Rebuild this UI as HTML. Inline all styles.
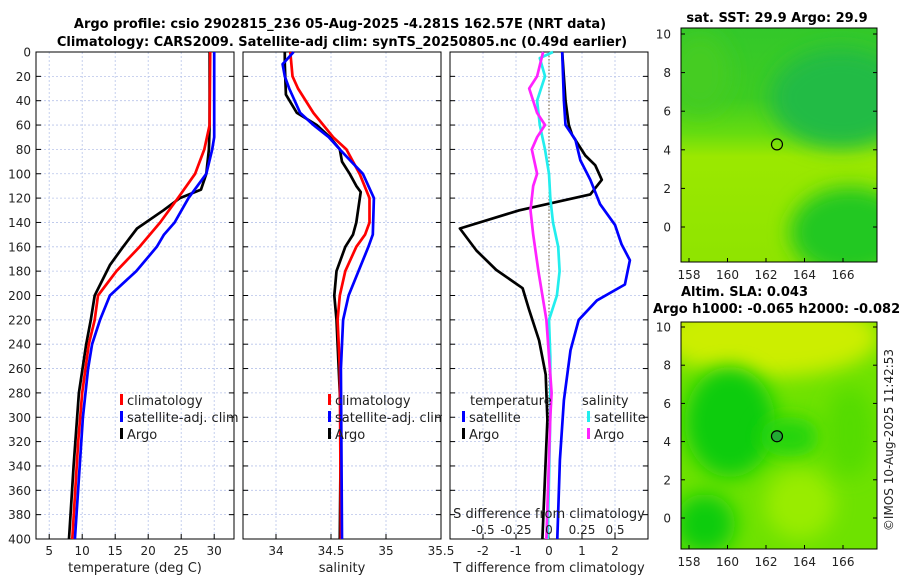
<!DOCTYPE html>
<html><head><meta charset="utf-8"><style>
body{margin:0;background:#fff;}
svg{display:block;font-family:"DejaVu Sans","Liberation Sans",sans-serif;}
</style></head><body>
<svg id="fig" width="900" height="580" viewBox="0 0 900 580">
<defs>
<linearGradient id="sstg" x1="0" y1="0" x2="0" y2="1">
<stop offset="0" stop-color="#33c82a"/><stop offset="0.3" stop-color="#3dcc22"/><stop offset="0.45" stop-color="#66dc10"/><stop offset="0.55" stop-color="#9be800"/><stop offset="1" stop-color="#8fe400"/></linearGradient>
<filter id="bl" x="-50%" y="-50%" width="200%" height="200%"><feGaussianBlur stdDeviation="10"/></filter>
</defs>
<g id="titles">
<text x="340" y="28" text-anchor="middle" font-size="13" font-weight="bold">Argo profile: csio 2902815_236 05-Aug-2025 -4.281S 162.57E (NRT data)</text>
<text x="342" y="46" text-anchor="middle" font-size="13" font-weight="bold">Climatology: CARS2009. Satellite-adj clim: synTS_20250805.nc (0.49d earlier)</text>
</g>
<g id="panels"></g>
<g id="maps"></g>
<text transform="translate(893,440) rotate(-90)" text-anchor="middle" font-size="12" fill="#222">©IMOS 10-Aug-2025 11:42:53</text>
</svg>
<script>
// ---- data ----
const tDepth = [0, 60, 80, 100, 113, 120, 130, 145, 160, 175, 200, 220, 240, 280, 340, 400];
const tArgo = [29.3, 29.3, 29.2, 28.8, 28.0, 24.8, 22.3, 18.3, 16.2, 14.2, 11.9, 11.3, 10.6, 9.5, 8.7, 8.0];
const cDepth = [0, 60, 80, 100, 120, 140, 160, 180, 200, 220, 240, 280, 320, 400];
const tClim = [29.4, 29.3, 28.5, 27.1, 24.5, 21.8, 18.7, 15.2, 12.4, 11.9, 11.0, 10.0, 9.4, 8.5];
const sDepthB = [0, 70, 80, 100, 120, 140, 150, 160, 180, 200, 220, 240, 260, 300, 400];
const tSat = [30.0, 30.0, 29.7, 28.8, 26.1, 24.0, 22.4, 21.3, 18.2, 14.2, 12.7, 11.5, 10.9, 10.1, 8.9];
const saDepth = [0, 10, 35, 50, 60, 70, 80, 90, 100, 110, 115, 140, 150, 160, 180, 200, 220, 260, 300, 400];
const sArgo = [34.08, 34.08, 34.09, 34.19, 34.37, 34.49, 34.58, 34.60, 34.67, 34.73, 34.77, 34.73, 34.70, 34.63, 34.55, 34.53, 34.55, 34.57, 34.59, 34.58];
const scDepth = [0, 10, 20, 30, 50, 70, 80, 100, 120, 140, 150, 160, 180, 200, 220, 260, 400];
const sClim = [34.13, 34.14, 34.15, 34.20, 34.34, 34.52, 34.64, 34.76, 34.85, 34.85, 34.81, 34.73, 34.63, 34.58, 34.56, 34.58, 34.59];
const ssDepth = [0, 10, 20, 30, 50, 60, 70, 80, 100, 120, 150, 160, 180, 200, 220, 260, 400];
const sSat = [34.16, 34.06, 34.08, 34.12, 34.22, 34.34, 34.48, 34.58, 34.79, 34.89, 34.88, 34.84, 34.75, 34.66, 34.61, 34.59, 34.60];
const dtDepthA = [0, 40, 60, 68, 85, 93, 105, 117, 130, 145, 163, 179, 194, 212, 237, 265, 302, 335, 400];
const dtArgo = [0.4, 0.5, 0.6, 0.7, 1.1, 1.4, 1.6, 1.25, -0.9, -2.7, -2.2, -1.6, -0.8, -0.6, -0.3, -0.1, -0.05, -0.1, -0.2];
const dtDepthS = [0, 40, 60, 72, 89, 105, 125, 142, 158, 171, 191, 204, 220, 245, 286, 335, 400];
const dtSat = [0.4, 0.45, 0.5, 0.8, 0.95, 1.25, 1.55, 2.0, 2.2, 2.45, 2.3, 1.45, 0.9, 0.65, 0.45, 0.33, 0.25];
const dsDepthS = [0, 5, 20, 40, 60, 80, 100, 120, 140, 160, 180, 200, 220, 250, 300, 400];
const dsSat = [0.03, -0.07, -0.03, -0.09, -0.07, -0.03, 0.0, 0.01, 0.03, 0.07, 0.08, 0.06, 0.0, 0.01, 0.01, -0.01];
const dsDepthA = [0, 20, 30, 50, 60, 70, 80, 100, 110, 130, 150, 180, 200, 220, 280, 300, 400];
const dsArgo = [-0.045, -0.09, -0.15, -0.09, -0.03, -0.09, -0.13, -0.09, -0.12, -0.14, -0.12, -0.08, -0.05, -0.02, 0.02, 0.01, -0.02];
const depthTicks = [0,20,40,60,80,100,120,140,160,180,200,220,240,260,280,300,320,340,360,380,400];
const tTicks = [5,10,15,20,25,30];
const sTicks = [34,34.5,35,35.5];
const sTickLabels = ["34","34.5","35","35.5"];
const dtTicks = [-2,-1,0,1,2];
const dsTicks = [-0.5,-0.25,0,0.25,0.5];
const lonTicks = [158,160,162,164,166];
const latTicks = [0,2,4,6,8,10];
const argoLon = 162.57, argoLat = 4.281;

const NS="http://www.w3.org/2000/svg";
function mk(tag, attrs, parent, text){
  const e=document.createElementNS(NS,tag);
  for(const k in attrs) e.setAttribute(k,attrs[k]);
  if(text!==undefined) e.textContent=text;
  parent.appendChild(e); return e;
}
const Y0=52, YS=1.2175;
const yD = d => Y0 + d*YS;
const panels = document.getElementById('panels');

function panel(name, x0, x1, vmin, vmax, xticks, xlabels, xtitle, showY){
  const g = mk('g',{},panels);
  
  
  const xf = v => x0 + (v-vmin)/(vmax-vmin)*(x1-x0);
  depthTicks.forEach(d=>{
    const l=mk('line',{x1:x0,x2:x1,y1:yD(d),y2:yD(d),stroke:'#b8c4ea','stroke-width':0.8,'stroke-dasharray':'2,2'},g);
    
    
    mk('line',{x1:x0,x2:x0+5,y1:yD(d),y2:yD(d),stroke:'#000'},g);
    mk('line',{x1:x1-5,x2:x1,y1:yD(d),y2:yD(d),stroke:'#000'},g);
    if(showY){
      const t=mk('text',{x:x0-5,y:yD(d)+4.5,'text-anchor':'end','font-size':12,fill:'#222'},g,String(d));
      
      
    }
  });
  xticks.forEach((v,i)=>{
    const l=mk('line',{x1:xf(v),x2:xf(v),y1:Y0,y2:yD(400),stroke:'#b8c4ea','stroke-width':0.8,'stroke-dasharray':'2,2'},g);
    
    
    mk('line',{x1:xf(v),x2:xf(v),y1:yD(400),y2:yD(400)-5,stroke:'#000'},g);
    const t=mk('text',{x:xf(v),y:555,'text-anchor':'middle','font-size':12,fill:'#222'},g,xlabels[i]);
    
    
  });
  const tt=mk('text',{x:(x0+x1)/2,y:572,'text-anchor':'middle','font-size':13,fill:'#222'},g,xtitle);
  
  
  const fr=mk('rect',{x:x0,y:Y0,width:x1-x0,height:yD(400)-Y0,fill:'none',stroke:'#000','stroke-width':1},g);
  
  
  return {g,xf};
}
function line(p, depths, vals, color, name, w){
  const pts = depths.map((d,i)=>p.xf(vals[i]).toFixed(1)+','+yD(d).toFixed(1)).join(' ');
  const l=mk('polyline',{points:pts,fill:'none',stroke:color,'stroke-width':w||2.7,'stroke-linejoin':'round'},p.g);
  
  
}
function legend(g, x, y, color, label){
  const r=mk('rect',{x:x,y:y-11,width:3,height:11,fill:color},g);
  
  
  const t=mk('text',{x:x+7,y:y,'font-size':13,fill:'#222'},g,label);
  
  
}

const p1 = panel('temperature-panel',36,234,3,33,tTicks,tTicks.map(String),'temperature (deg C)',true);
line(p1,tDepth,tArgo,'#000','argo-temperature-line');
line(p1,cDepth,tClim,'#ff0000','climatology-temperature-line');
line(p1,sDepthB,tSat,'#0000ff','satellite-temperature-line');
legend(p1.g,120,405,'#ff0000','climatology');
legend(p1.g,120,422,'#0000ff','satellite-adj. clim');
legend(p1.g,120,439,'#000','Argo');

const p2 = panel('salinity-panel',243,441,33.7,35.5,sTicks,sTickLabels,'salinity',false);
line(p2,saDepth,sArgo,'#000','argo-salinity-line');
line(p2,scDepth,sClim,'#ff0000','climatology-salinity-line');
line(p2,ssDepth,sSat,'#0000ff','satellite-salinity-line');
legend(p2.g,328,405,'#ff0000','climatology');
legend(p2.g,328,422,'#0000ff','satellite-adj. clim');
legend(p2.g,328,439,'#000','Argo');
mk('rect',{x:442,y:390,width:8,height:40,fill:'#fff'},panels);

const p3 = panel('difference-panel',450,648,-3,3,dtTicks,dtTicks.map(String),'T difference from climatology',false);
const zl=mk('line',{x1:p3.xf(0),x2:p3.xf(0),y1:Y0,y2:yD(400),stroke:'#6b5a3a','stroke-width':1,'stroke-dasharray':'1.5,2'},p3.g);


const sScale = v => v*4;
line(p3,dtDepthA,dtArgo,'#000','argo-temperature-difference');
line(p3,dtDepthS,dtSat,'#0000ff','satellite-temperature-difference');
line(p3,dsDepthS,dsSat.map(sScale),'#22eeee','satellite-salinity-difference');
line(p3,dsDepthA,dsArgo.map(sScale),'#ff22ff','argo-salinity-difference');
const lt=mk('text',{x:470,y:405,'font-size':13,fill:'#222'},p3.g,'temperature');


const ls=mk('text',{x:582,y:405,'font-size':13,fill:'#222'},p3.g,'salinity');


legend(p3.g,462,422,'#0000ff','satellite');
legend(p3.g,462,439,'#000','Argo');
legend(p3.g,587,422,'#22eeee','satellite');
legend(p3.g,587,439,'#ff22ff','Argo');
const st=mk('text',{x:549,y:518,'text-anchor':'middle','font-size':13,fill:'#222'},p3.g,'S difference from climatology');


dsTicks.forEach(v=>{
  const t=mk('text',{x:p3.xf(sScale(v)),y:534,'text-anchor':'middle','font-size':12,fill:'#222'},p3.g,String(v));
  
  
});

const maps=document.getElementById('maps');
const lonX = lon => 689 + (lon-158)*19.25;
function map(name, top, bottom, lat10y, lat0y, kind, titles){
  const g=mk('g',{},maps);
  
  
  const latY = lat => lat0y + (lat10y-lat0y)*lat/10;
  const cp=mk('clipPath',{id:'cp'+kind},g);
  mk('rect',{x:681,y:top,width:196,height:bottom-top},cp);
  const inner=mk('g',{'clip-path':'url(#cp'+kind+')'},g);
  if(kind==='sst'){
    mk('rect',{x:681,y:top,width:196,height:bottom-top,fill:'url(#sstg)'},inner);
    mk('ellipse',{cx:840,cy:top+70,rx:70,ry:50,fill:'#22bb44',filter:'url(#bl)'},inner);
    mk('ellipse',{cx:850,cy:bottom-30,rx:60,ry:45,fill:'#22c822',filter:'url(#bl)'},inner);
    mk('ellipse',{cx:700,cy:top+45,rx:30,ry:40,fill:'#44cc22',filter:'url(#bl)'},inner);
  } else {
    mk('rect',{x:681,y:top,width:196,height:bottom-top,fill:'#6ee200'},inner);
    mk('ellipse',{cx:770,cy:top+15,rx:110,ry:40,fill:'#ccee00',filter:'url(#bl)'},inner);
    mk('ellipse',{cx:730,cy:top+100,rx:45,ry:55,fill:'#11cc11',filter:'url(#bl)'},inner);
    mk('ellipse',{cx:705,cy:bottom-25,rx:30,ry:30,fill:'#11cc11',filter:'url(#bl)'},inner);
    mk('ellipse',{cx:790,cy:top+115,rx:30,ry:20,fill:'#22d410',filter:'url(#bl)'},inner);
    mk('ellipse',{cx:800,cy:bottom-45,rx:35,ry:35,fill:'#99ec00',filter:'url(#bl)'},inner);
    mk('ellipse',{cx:850,cy:top+110,rx:25,ry:45,fill:'#55dc00',filter:'url(#bl)'},inner);
  }
  const mk1=mk('circle',{cx:lonX(argoLon),cy:latY(argoLat),r:5.5,fill:kind==='sst'?'none':'#22aa33',stroke:'#000','stroke-width':1.2},g);
  
  
  mk('rect',{x:681,y:top,width:196,height:bottom-top,fill:'none',stroke:'#000'},g);
  lonTicks.forEach(v=>{
    mk('line',{x1:lonX(v),x2:lonX(v),y1:bottom,y2:bottom-4,stroke:'#000'},g);
    const t=mk('text',{x:lonX(v),y:bottom+17,'text-anchor':'middle','font-size':12,fill:'#222'},g,String(v));
    
    
  });
  latTicks.forEach(v=>{
    mk('line',{x1:681,x2:685,y1:latY(v),y2:latY(v),stroke:'#000'},g);
    mk('line',{x1:873,x2:877,y1:latY(v),y2:latY(v),stroke:'#000'},g);
    const t=mk('text',{x:671,y:latY(v)+4.5,'text-anchor':'end','font-size':12,fill:'#222'},g,String(v));
    
    
  });
  titles.forEach(tt=>{
    const t=mk('text',{x:tt[0],y:tt[1],'text-anchor':tt[3],'font-size':13,'font-weight':'bold'},g,tt[2]);
    
    
  });
}
map('sst-map',28,262,34,227,'sst',[[777,22,'sat. SST: 29.9 Argo: 29.9','middle']]);
map('sla-map',322,549,327,518,'sla',[[681,296,'Altim. SLA: 0.043','start'],[653,313,'Argo h1000: -0.065 h2000: -0.082','start']]);
</script>
</body></html>
